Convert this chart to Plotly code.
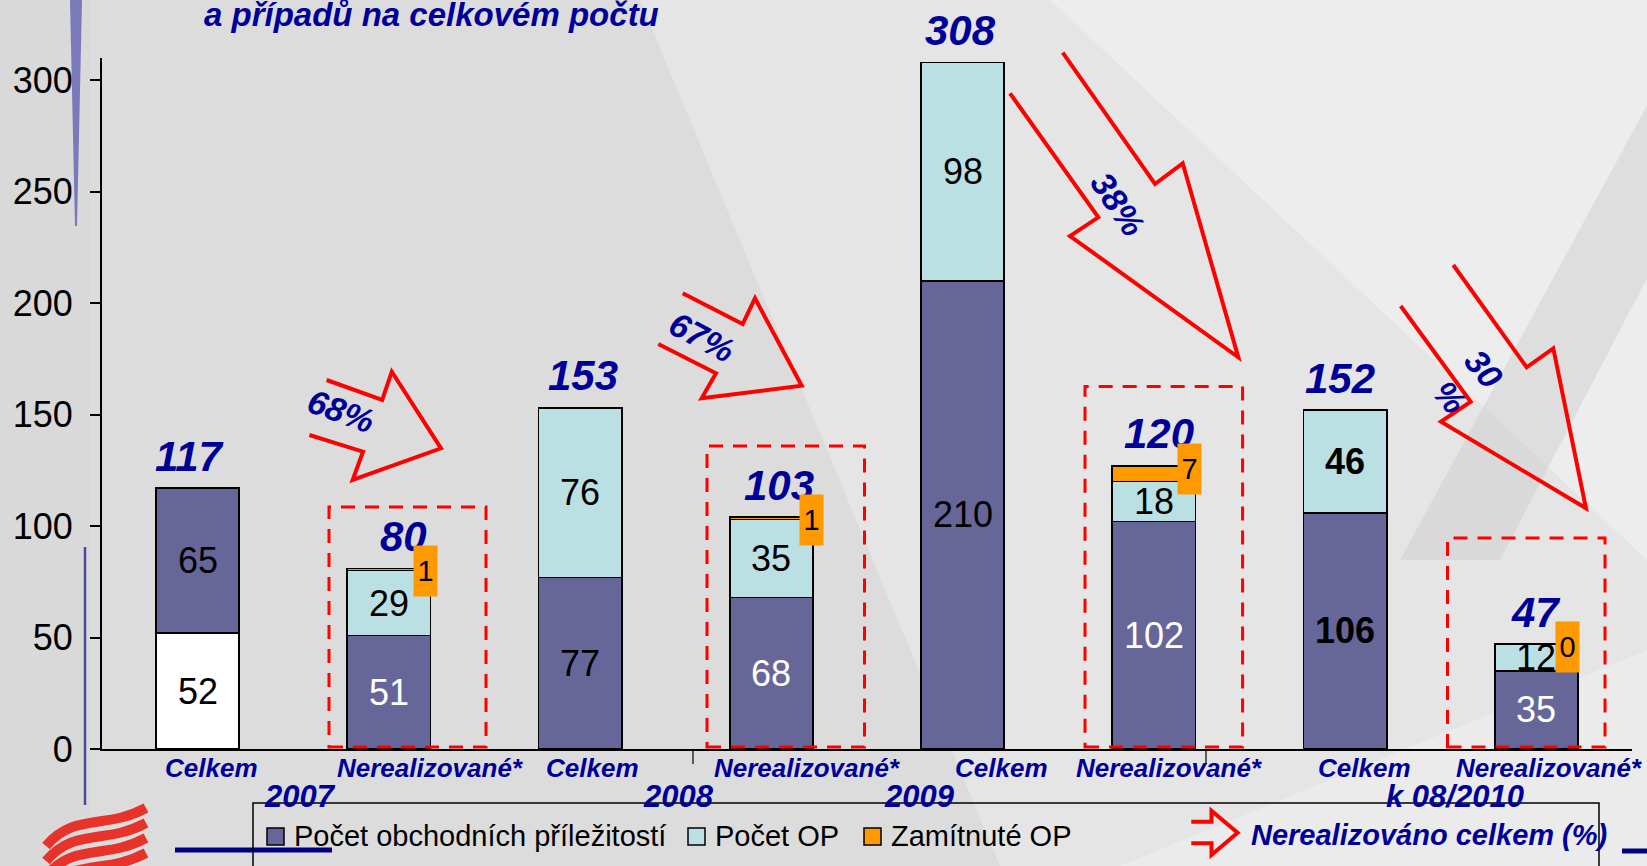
import plotly.graph_objects as go

# ---------------- data ----------------
categories = ["Celkem", "Nerealizované*", "Celkem", "Nerealizované*",
              "Celkem", "Nerealizované*", "Celkem", "Nerealizované*"]
periods = ["2007", "2008", "2009", "k 08/2010"]
white_base = [52, 0, 0, 0, 0, 0, 0, 0]
opportunities = [65, 51, 77, 68, 210, 102, 106, 35]
op_count = [0, 29, 76, 35, 98, 18, 46, 12]
rejected_op = [0, 1, 0, 1, 0, 7, 0, 0]
total_labels = [117, 80, 153, 103, 308, 120, 152, 47]
unrealized_pct = ["68%", "67%", "38%", "30<br>%"]
series_names = ["Počet obchodních příležitostí", "Počet OP", "Zamítnuté OP"]
arrow_legend_name = "Nerealizováno celkem (%)"
title_line = "a případů na celkovém počtu"
y_ticks = [0, 50, 100, 150, 200, 250, 300]

# ---------------- style ----------------
W, H = 1647, 866
ML, MR, MT, MB = 102, 15, 58, 117
PW, PH = W - ML - MR, H - MT - MB
Y0 = H - MB
FONT = "Liberation Sans, Arial, sans-serif"
PURPLE, CYAN, ORANGE = "#666699", "#BBE0E3", "#FF9900"
NAVY, RED = "#000099", "#FF0000"


def fx(p):
    return (p - ML) / PW


def fy(p):
    return (Y0 - p) / PH


def nz(vals):
    return [v if v else None for v in vals]


x = list(range(len(categories)))
fig = go.Figure()
for vals, color in [(white_base, "white"), (opportunities, PURPLE),
                    (op_count, CYAN), (rejected_op, ORANGE)]:
    fig.add_trace(go.Bar(x=x, y=nz(vals), width=0.435,
                         marker=dict(color=color, line=dict(color="black", width=1.6)),
                         hoverinfo="skip", showlegend=False))

ann = []
shapes = []

# ---- background decoration ----
bg_polys = [
    ([(640, 0), (1647, 0), (1647, 866), (1000, 866)], "white", 0.28),
    ([(1050, 0), (1647, 0), (1647, 560)], "white", 0.30),
    ([(1120, 866), (1647, 650), (1647, 866)], "white", 0.25),
    ([(1650, 100), (1740, 100), (1500, 560), (1400, 560)], "#bdbdbd", 0.30),
    ([(0, 0), (90, 0), (90, 866), (0, 866)], "#c8c8c8", 0.12),
]
for pts, col, op in bg_polys:
    path = "M " + " L ".join(f"{fx(a):.5f},{fy(b):.5f}" for a, b in pts) + " Z"
    shapes.append(dict(type="path", xref="paper", yref="paper", path=path,
                       fillcolor=col, opacity=op, line=dict(width=0), layer="below"))

# blue decorative lines
shapes.append(dict(type="path", xref="paper", yref="paper", layer="below",
                   path=f"M {fx(70):.5f},{fy(0):.5f} L {fx(82):.5f},{fy(0):.5f} L {fx(77):.5f},{fy(226):.5f} L {fx(75):.5f},{fy(226):.5f} Z",
                   fillcolor="#5a5ab0", opacity=0.75, line=dict(width=0)))
shapes.append(dict(type="line", xref="paper", yref="paper", layer="below",
                   x0=fx(85), x1=fx(85), y0=fy(547), y1=fy(805),
                   line=dict(color="#4a4a9a", width=2.5)))
shapes.append(dict(type="line", xref="paper", yref="paper",
                   x0=fx(175), x1=fx(332), y0=fy(850), y1=fy(850),
                   line=dict(color="#000080", width=5)))
shapes.append(dict(type="line", xref="paper", yref="paper",
                   x0=fx(1622), x1=fx(1647), y0=fy(851), y1=fy(851),
                   line=dict(color="#000080", width=5)))
# red logo stripes
for k in range(4):
    dy = 15 * k
    shapes.append(dict(type="path", xref="paper", yref="paper",
                       path=f"M {fx(46):.5f},{fy(846 + dy):.5f} C {fx(75):.5f},{fy(812 + dy):.5f} {fx(105):.5f},{fy(830 + dy):.5f} {fx(146):.5f},{fy(808 + dy):.5f}",
                       line=dict(color="#e8332a", width=10)))

# small separator ticks under x axis
for px_ in [693, 1206]:
    shapes.append(dict(type="line", xref="paper", yref="paper",
                       x0=fx(px_), x1=fx(px_), y0=fy(749), y1=fy(764),
                       line=dict(color="black", width=1.2)))

# ---- segment labels ----
for i in x:
    base = 0
    bold_cat = (i == 6)
    for vals, col in [(white_base, "black"),
                      (opportunities, "white" if categories[i] != "Celkem" else "black"),
                      (op_count, "black")]:
        v = vals[i]
        if v:
            ann.append(dict(x=i, y=base + v / 2, xref="x", yref="y", text=str(v),
                            showarrow=False, yanchor="middle", xanchor="center",
                            font=dict(family=FONT, size=36, color=col,
                                      weight="bold" if bold_cat else "normal")))
        base += v

# ---- totals ----
tot_xshift = [-8, 15, 3, 8, -2, 5, -5, -1]
box_xshift = [0, 37, 0, 40, 0, 36, 0, 31]
for i in x:
    top = white_base[i] + opportunities[i] + op_count[i] + rejected_op[i]
    ann.append(dict(x=i, y=top, xref="x", yref="y", text=str(total_labels[i]),
                    showarrow=False, yanchor="middle", xanchor="center",
                    yshift=32, xshift=tot_xshift[i],
                    font=dict(family=FONT, size=42, color=NAVY, weight="bold", style="italic")))
    if categories[i] != "Celkem":
        ann.append(dict(x=i, y=top, xref="x", yref="y", text=str(rejected_op[i]),
                        showarrow=False, yanchor="middle", xanchor="center",
                        xshift=box_xshift[i], yshift=-3,
                        bgcolor=ORANGE, width=23, height=50, borderpad=0,
                        font=dict(family=FONT, size=29, color="black")))

# ---- dashed boxes around unrealized bars ----
dash_boxes_px = [(329, 486, 507), (707, 864.5, 446), (1085, 1242.6, 386.5), (1447.5, 1605, 538)]
for x0p, x1p, ytop in dash_boxes_px:
    shapes.append(dict(type="rect", xref="paper", yref="paper",
                       x0=fx(x0p), x1=fx(x1p), y0=fy(747), y1=fy(ytop),
                       line=dict(color=RED, width=3, dash="14px,10px")))

# ---- red block arrows (open tail) ----
arrows_px = [
    [(326.6, 380), (382.2, 400), (391.8, 371.7), (441, 448.3), (352.7, 480), (363, 451.7), (309.4, 435)],
    [(682.7, 293.3), (742.7, 324), (755, 298.3), (801.7, 385.7), (701.7, 398.3), (716, 373.3), (658.3, 344)],
    [(1062.7, 52.7), (1155, 184), (1182.7, 163.3), (1238.3, 357.3), (1070, 236), (1098.3, 217.3), (1010, 93.3)],
    [(1453.3, 265), (1526.7, 367.3), (1553.3, 348.3), (1586, 508.3), (1441, 421.7), (1470.7, 401.7), (1400.7, 306)],
]
pct_pos = [(341, 411), (702, 337), (1118, 204), (1467, 383)]
pct_angle = [20, 28, 56, 50]
for pts, (tx, ty), ang, txt in zip(arrows_px, pct_pos, pct_angle, unrealized_pct):
    path = "M " + " L ".join(f"{fx(a):.5f},{fy(b):.5f}" for a, b in pts)
    shapes.append(dict(type="path", xref="paper", yref="paper", path=path,
                       line=dict(color=RED, width=4)))
    ann.append(dict(x=fx(tx), y=fy(ty), xref="paper", yref="paper", text=txt,
                    showarrow=False, textangle=ang, xanchor="center", yanchor="middle",
                    font=dict(family=FONT, size=34, color=NAVY, weight="bold", style="italic")))

# ---- category and period labels ----
cat_xshift = [14, 42, 12, 36, 39, 16, 19, 13]
for i in x:
    ann.append(dict(x=i, y=fy(768), xref="x", yref="paper", text=categories[i],
                    showarrow=False, xshift=cat_xshift[i], xanchor="center", yanchor="middle",
                    font=dict(family=FONT, size=26, color=NAVY, weight="bold", style="italic")))
period_x_px = [300, 678, 919, 1455]
for p, px_ in zip(periods, period_x_px):
    ann.append(dict(x=fx(px_), y=fy(796), xref="paper", yref="paper", text=p,
                    showarrow=False, xanchor="center", yanchor="middle",
                    font=dict(family=FONT, size=31, color=NAVY, weight="bold", style="italic")))

# ---- title fragment ----
ann.append(dict(x=fx(431), y=fy(14), xref="paper", yref="paper", text=title_line,
                showarrow=False, xanchor="center", yanchor="middle",
                font=dict(family=FONT, size=33, color=NAVY, weight="bold", style="italic")))

# ---- custom legend ----
shapes.append(dict(type="rect", xref="paper", yref="paper",
                   x0=fx(253), x1=fx(1599), y0=fy(803), y1=fy(900),
                   line=dict(color="black", width=1.5)))
legend_sw_x = [267, 688, 864]
for name, col, sx in zip(series_names, [PURPLE, CYAN, ORANGE], legend_sw_x):
    shapes.append(dict(type="rect", xref="paper", yref="paper",
                       x0=fx(sx), x1=fx(sx + 17), y0=fy(828), y1=fy(845),
                       fillcolor=col, line=dict(color="black", width=1.5)))
    ann.append(dict(x=fx(sx + 25), y=fy(836), xref="paper", yref="paper", text=name,
                    showarrow=False, xanchor="left", yanchor="middle",
                    font=dict(family=FONT, size=29, color="black")))
leg_arrow = [(1191.3, 821.7), (1211.5, 821.7), (1211.5, 810.7), (1237.6, 832.7),
             (1211.5, 855), (1211.5, 843.3), (1191.3, 843.3)]
shapes.append(dict(type="path", xref="paper", yref="paper",
                   path="M " + " L ".join(f"{fx(a):.5f},{fy(b):.5f}" for a, b in leg_arrow),
                   line=dict(color=RED, width=4)))
ann.append(dict(x=fx(1249), y=fy(835), xref="paper", yref="paper", text=arrow_legend_name,
                showarrow=False, xanchor="left", yanchor="middle",
                font=dict(family=FONT, size=29, color=NAVY, weight="bold", style="italic")))

fig.update_layout(
    width=W, height=H,
    margin=dict(l=ML, r=MR, t=MT, b=MB, pad=0),
    barmode="stack",
    paper_bgcolor="#dcdcdc", plot_bgcolor="rgba(0,0,0,0)",
    showlegend=False,
    annotations=ann, shapes=shapes,
    xaxis=dict(range=[-0.5, len(categories) - 0.5], showticklabels=False, ticks="",
               showline=True, linecolor="black", linewidth=2, showgrid=False,
               zeroline=False),
    yaxis=dict(range=[0, 310], tickvals=y_ticks, ticks="outside", ticklen=10,
               tickwidth=2, tickcolor="black", showline=True, linecolor="black",
               linewidth=2, showgrid=False, zeroline=False, ticklabelstandoff=10,
               tickfont=dict(family=FONT, size=36, color="black")),
)

fig.write_html("out.html", config={"displayModeBar": False},
               post_script="document.body.style.margin='0';document.body.style.overflow='hidden';")
